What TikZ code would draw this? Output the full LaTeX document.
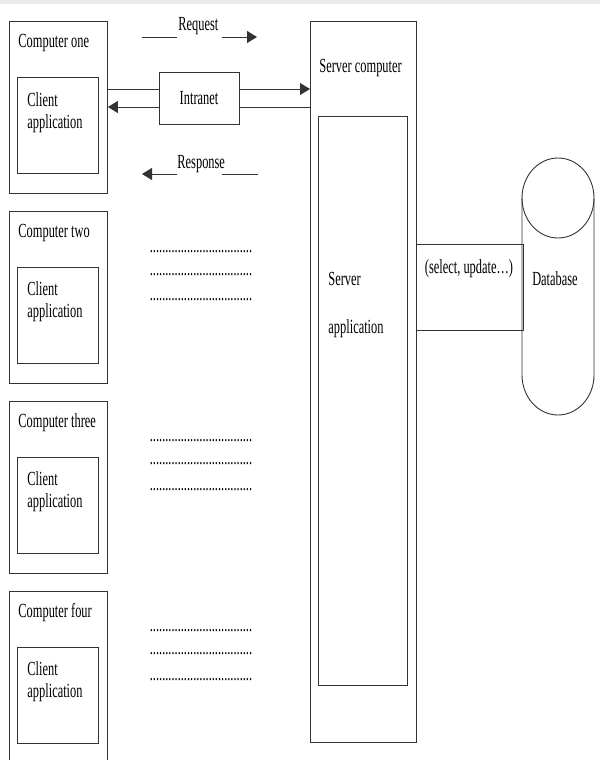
\documentclass[tikz,border=0pt]{standalone}
\usepackage{fontspec}
\setmainfont{Liberation Serif}[FakeStretch=0.62]
\usepackage{tikz}
\usetikzlibrary{arrows.meta,positioning}
\tikzset{netarrow/.style={-{Triangle[length=10pt,width=12pt]}},
  compbox/.style={draw, anchor=north west, minimum width=98pt, minimum height=172pt, inner sep=0pt},
  appbox/.style={draw, anchor=north west, minimum width=81pt, minimum height=96pt, inner sep=0pt},
  lbl/.style={anchor=base west, inner sep=0pt, align=left},
  dotrow/.style={anchor=base, inner sep=0pt}}

\begin{document}
\begin{tikzpicture}[x=1pt, y=-1pt, line width=0.9pt, draw=black!80, font=\fontsize{20}{22}\selectfont]
\useasboundingbox (0,0) rectangle (600,760);
\fill[black!8] (0,0) rectangle (600,4);
% clients
\node[compbox] (c1) at (9,21) {};
\node[compbox, below=17pt of c1] (c2) {};
\node[compbox, below=17pt of c2] (c3) {};
\node[compbox, below=17pt of c3] (c4) {};
\node[lbl] (t1) at ([shift={(9pt,-27pt)}]c1.north west) {Computer one};
\node[lbl] (t2) at ([shift={(9pt,-27pt)}]c2.north west) {Computer two};
\node[lbl] (t3) at ([shift={(9pt,-27pt)}]c3.north west) {Computer three};
\node[lbl] (t4) at ([shift={(9pt,-27pt)}]c4.north west) {Computer four};
\node[appbox] (a1) at ([shift={(8pt,-56pt)}]c1.north west) {};
\node[appbox] (a2) at ([shift={(8pt,-56pt)}]c2.north west) {};
\node[appbox] (a3) at ([shift={(8pt,-56pt)}]c3.north west) {};
\node[appbox] (a4) at ([shift={(8pt,-56pt)}]c4.north west) {};
\node[lbl] (at1) at ([shift={(10pt,-51pt)}]a1.north west) {Client\\application};
\node[lbl] (at2) at ([shift={(10pt,-51pt)}]a2.north west) {Client\\application};
\node[lbl] (at3) at ([shift={(10pt,-51pt)}]a3.north west) {Client\\application};
\node[lbl] (at4) at ([shift={(10pt,-51pt)}]a4.north west) {Client\\application};
% server side
\node[draw, anchor=north west, minimum width=106pt, minimum height=721pt] (srv) at (310,21) {};
\node[draw, anchor=north west, minimum width=89pt, minimum height=569pt] (srvapp) at (318,116) {};
\node[lbl] (srvt) at (319,73) {Server computer};
\node[lbl] (srvat) at (328,333) {Server\\[26pt]application};
\node[draw, anchor=north west, minimum width=107pt, minimum height=86pt] (link) at (416,244) {};
\node[dotrow] (linkt) at (469,273) {(select, update…)};
\draw (522,198) -- (522,375) arc[start angle=180, end angle=0, x radius=36, y radius=40] -- (594,198);
\draw (558,198) ellipse [x radius=36, y radius=40];
\node[dotrow] (db) at (555,285) {Database};
% intranet
\node[draw, minimum width=80pt, minimum height=52pt] (net) at (199,98) {Intranet};
\draw ([yshift=9pt]net.west) -- ([yshift=9pt]net.west -| c1.east);
\draw[netarrow] ([yshift=9pt]net.east) -- ([yshift=9pt]net.east -| srv.west);
\draw[netarrow] ([yshift=-9pt]net.west) -- ([yshift=-9pt]net.west -| c1.east);
\draw ([yshift=-9pt]net.east) -- ([yshift=-9pt]net.east -| srv.west);
\node[lbl] (req) at (178,31) {Request};
\node[lbl] (resp) at (177,168) {Response};
\coordinate (reqa) at (142,37);
\coordinate (reqb) at (177,37);
\coordinate (reqc) at (222,37);
\coordinate (reqd) at (257,37);
\coordinate (respa) at (142,174);
\coordinate (respb) at (177,174);
\coordinate (respc) at (222,174);
\coordinate (respd) at (258,174);
\draw (reqa) -- (reqb);
\draw[netarrow] (reqc) -- (reqd);
\draw[netarrow] (respb) -- (respa);
\draw (respc) -- (respd);
% dots
\node[dotrow] (d2a) at (201,252) {.................................};
\node[dotrow] (d2b) at (201,275) {.................................};
\node[dotrow] (d2c) at (201,300) {.................................};
\node[dotrow] (d3a) at (201,441) {.................................};
\node[dotrow] (d3b) at (201,464) {.................................};
\node[dotrow] (d3c) at (201,490) {.................................};
\node[dotrow] (d4a) at (201,631) {.................................};
\node[dotrow] (d4b) at (201,654) {.................................};
\node[dotrow] (d4c) at (201,680) {.................................};
\end{tikzpicture}
\end{document}
